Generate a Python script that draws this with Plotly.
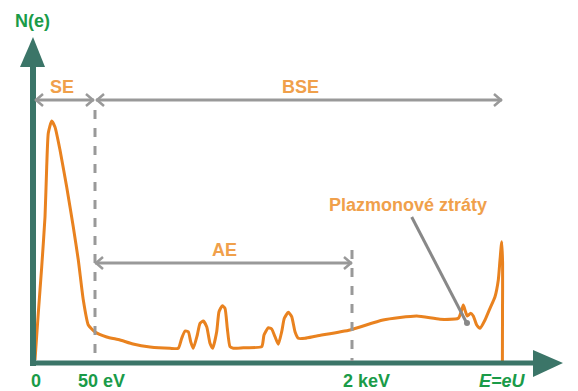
import plotly.graph_objects as go

# Spectrum N(e) vs. electron energy (arbitrary units)
energy = [2, 5.3, 8.7, 12, 13.7, 15.3, 18.7, 22, 27, 33.7, 40.3, 45.3, 50.3, 55.3, 62,
          73.7, 87, 100, 117,
          137, 145.3, 148.7, 152, 155.3, 157.7, 160.3, 164.3, 167, 170.3, 173.7, 177, 179.7,
          183.7, 186, 189.3, 192, 194.3, 197, 200.3, 210.3, 228.7, 231, 235.3, 238.7, 242,
          245.3, 248.7, 251.3, 255.3, 258.7, 262, 265.3, 272,
          283.7, 317, 350, 383.7, 407, 425.3, 428.7, 430.3, 432, 434.3, 437.7, 440.3,
          443.7, 447, 452, 457, 462, 465.3, 467, 468.7, 469.6, 469.5, 469.4]
counts = [3, 50, 96, 146, 196, 230, 242, 236, 213, 176, 136, 103, 63, 38, 31,
          26, 23, 19, 16,
          14.7, 14.7, 24.7, 32, 31.3, 21.3, 14.7, 28, 39.7, 42, 36.3, 19.7, 14.7,
          31.3, 51.3, 57.3, 54.7, 34.7, 16.3, 14.7, 15.3, 16.3, 28, 35.3, 34, 26.3,
          18.7, 31.3, 44.7, 50.7, 46.3, 31.3, 24.7, 24.7,
          27, 33, 43, 47, 43.7, 44.7, 53, 58, 53, 47, 49.7, 47,
          38, 34.7, 43, 54.7, 66.3, 83, 103, 121.3, 100, 50, 1]

# boundaries on the energy axis
x_50eV = 62
x_2keV = 319
x_eU = 469

tick_labels = ["0", "50 eV", "2 keV", "<i>E=eU</i>"]
tick_pos = [3, 68, 333, 469]

TEAL = "#3b7568"
GREEN = "#1a9b48"
ORANGE = "#e9821f"
LORANGE = "#f0a04b"
GRAY = "#999999"
FONT = "Liberation Sans"
FS = 18

fig = go.Figure()
fig.add_trace(go.Scatter(x=energy, y=counts, mode="lines",
                         line=dict(color=ORANGE, width=3, shape="spline", smoothing=0.5),
                         hoverinfo="skip", showlegend=False))

shapes = []
# axes
shapes.append(dict(type="line", x0=0, y0=-3, x1=0, y1=298, line=dict(color=TEAL, width=6)))
shapes.append(dict(type="path", path="M 0 326 L -13 296 L 12 296 Z", fillcolor=TEAL, line=dict(width=0)))
shapes.append(dict(type="line", x0=-3, y0=0, x1=502, y1=0, line=dict(color=TEAL, width=5)))
shapes.append(dict(type="path", path="M 530 0 L 500 13 L 500 -14 Z", fillcolor=TEAL, line=dict(width=0)))

# dashed boundaries
shapes.append(dict(type="line", x0=x_50eV, y0=253, x1=x_50eV, y1=2,
                   line=dict(color=GRAY, width=3, dash="dash")))
shapes.append(dict(type="line", x0=x_2keV, y0=113, x1=x_2keV, y1=2,
                   line=dict(color=GRAY, width=3, dash="dash")))


def arrow(xa, xb, y):
    s = [dict(type="line", x0=xa, y0=y, x1=xb, y1=y, line=dict(color=GRAY, width=3))]
    s.append(dict(type="path", path=f"M {xa+8} {y+6} L {xa+1} {y} L {xa+8} {y-6}",
                  line=dict(color=GRAY, width=2.5)))
    s.append(dict(type="path", path=f"M {xb-8} {y+6} L {xb-1} {y} L {xb-8} {y-6}",
                  line=dict(color=GRAY, width=2.5)))
    return s


shapes += arrow(2, x_50eV - 1, 263)
shapes += arrow(x_50eV + 1, x_eU, 263)
shapes += arrow(x_50eV, x_2keV, 100)

# pointer to plasmon losses
shapes.append(dict(type="line", x0=378.7, y0=146, x1=433.7, y1=40, line=dict(color="#888888", width=3)))
shapes.append(dict(type="circle", x0=431, y0=37, x1=437, y1=43, fillcolor="#888888", line=dict(width=0)))

ann = []
ann.append(dict(x=-1, y=342, text="<b>N(e)</b>", font=dict(color=GREEN, size=FS, family=FONT)))
ann.append(dict(x=29, y=276, text="<b>SE</b>", font=dict(color=LORANGE, size=FS, family=FONT)))
ann.append(dict(x=267, y=276, text="<b>BSE</b>", font=dict(color=LORANGE, size=FS, family=FONT)))
ann.append(dict(x=191, y=113, text="<b>AE</b>", font=dict(color=LORANGE, size=FS, family=FONT)))
ann.append(dict(x=374.5, y=158, text="<b>Plazmonové ztráty</b>", font=dict(color=LORANGE, size=FS, family=FONT)))
for t, p in zip(tick_labels, tick_pos):
    ann.append(dict(x=p, y=-18, text=f"<b>{t}</b>", font=dict(color=GREEN, size=FS, family=FONT)))
ann.append(dict(x=540, y=1, text="<b><i>E</i></b>", xanchor="left",
                font=dict(color=GREEN, size=FS, family=FONT)))
for a in ann:
    a.setdefault("xanchor", "center")
    a.update(showarrow=False, yanchor="middle", xref="x", yref="y")

fig.update_layout(
    width=578, height=391,
    margin=dict(l=0, r=0, t=0, b=0),
    paper_bgcolor="white", plot_bgcolor="white",
    xaxis=dict(range=[-25, 553], visible=False),
    yaxis=dict(range=[-36, 355], visible=False),
    shapes=shapes, annotations=ann,
)
fig.write_html("out.html")
